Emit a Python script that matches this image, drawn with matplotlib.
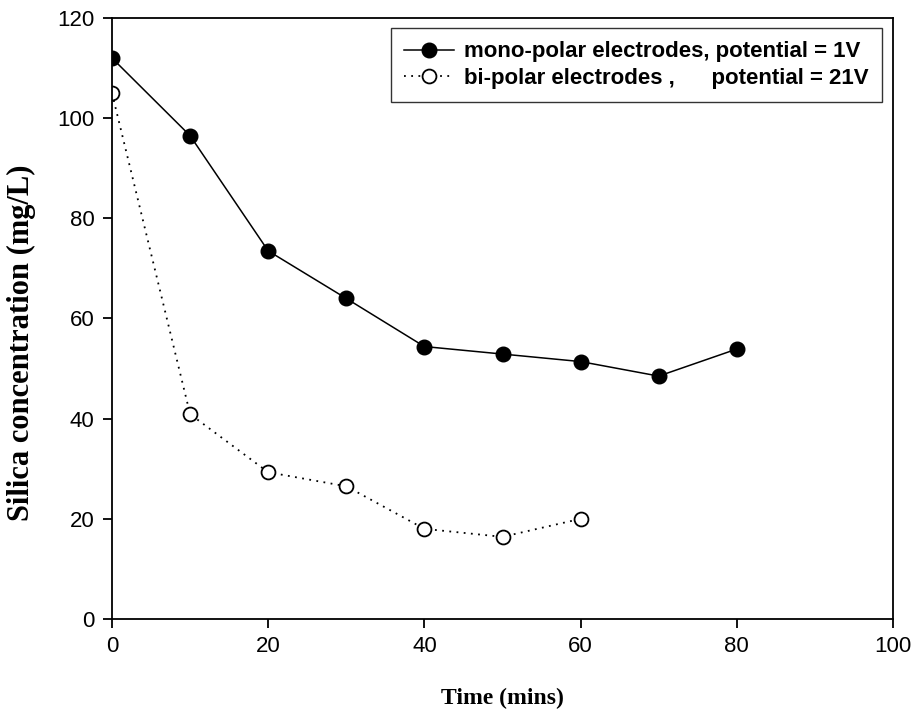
import matplotlib
matplotlib.use("Agg")
import matplotlib.pyplot as plt

time_mono = [0, 10, 20, 30, 40, 50, 60, 70, 80]
silica_mono = [112, 96.5, 73.5, 64, 54.4, 52.9, 51.4, 48.5, 53.9]
time_bi = [0, 10, 20, 30, 40, 50, 60]
silica_bi = [105, 40.9, 29.3, 26.5, 18.0, 16.4, 20.0]

label_mono = "mono-polar electrodes, potential = 1V"
label_bi = "bi-polar electrodes ,      potential = 21V"
xticks = [0, 20, 40, 60, 80, 100]
yticks = [0, 20, 40, 60, 80, 100, 120]

fig = plt.figure(figsize=(9.14, 7.2), dpi=100)
ax = fig.add_axes([112/914, 101/720, (893-112)/914, (619-18)/720])

ax.plot(time_mono, silica_mono, color="black", lw=1.1, marker="o", ms=10.5,
        mfc="black", mec="black", label=label_mono)
ax.plot(time_bi, silica_bi, color="black", lw=1.3, ls=(0, (1, 3)), marker="o", ms=10,
        mfc="white", mec="black", mew=1.3, label=label_bi)

ax.set_xlim(0, 100)
ax.set_ylim(0, 120)
ax.set_xticks(xticks)
ax.set_yticks(yticks)
for s in ax.spines.values():
    s.set_linewidth(1.3)
ax.tick_params(direction="out", length=6.5, width=1.3, labelsize=16, pad=6)
for lab in ax.get_xticklabels() + ax.get_yticklabels():
    lab.set_fontfamily("Liberation Sans")

ax.set_xlabel("Time (mins)", fontsize=17, fontweight="bold", family="Liberation Serif", labelpad=22)
ax.set_ylabel("Silica concentration (mg/L)", fontsize=22, fontweight="bold", family="Liberation Serif")
ax.yaxis.set_label_coords(-0.097, 0.46)

leg = ax.legend(loc="upper right", bbox_to_anchor=(1 - 11/781, 1 - 10/601),
                prop={"family": "Liberation Sans", "weight": "bold", "size": 16},
                frameon=True, fancybox=False, handlelength=2.25, handletextpad=0.45,
                borderpad=0.6, labelspacing=0.25, borderaxespad=0)
leg.get_frame().set_edgecolor("black")
leg.get_frame().set_linewidth(1.0)

fig.savefig("out.png", dpi=100)
